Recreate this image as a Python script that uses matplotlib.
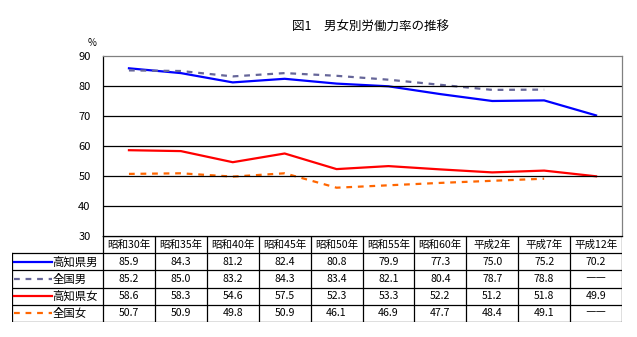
import matplotlib
matplotlib.use("Agg")
import matplotlib.pyplot as plt
import numpy as np

plt.rcParams['font.family'] = ['Noto Sans CJK JP', 'DejaVu Sans']

# data
years = ["昭和30年", "昭和35年", "昭和40年", "昭和45年", "昭和50年",
         "昭和55年", "昭和60年", "平成2年", "平成7年", "平成12年"]
kochi_male = [85.9, 84.3, 81.2, 82.4, 80.8, 79.9, 77.3, 75.0, 75.2, 70.2]
japan_male = [85.2, 85.0, 83.2, 84.3, 83.4, 82.1, 80.4, 78.7, 78.8, np.nan]
kochi_female = [58.6, 58.3, 54.6, 57.5, 52.3, 53.3, 52.2, 51.2, 51.8, 49.9]
japan_female = [50.7, 50.9, 49.8, 50.9, 46.1, 46.9, 47.7, 48.4, 49.1, np.nan]

series = [
    ("高知県男", kochi_male, "#0000ff", "-"),
    ("全国男", japan_male, "#666699", (0, (2.6, 2.6))),
    ("高知県女", kochi_female, "#ff0000", "-"),
    ("全国女", japan_female, "#ff6600", (0, (2.6, 2.6))),
]

W, H = 637, 337
fig = plt.figure(figsize=(W / 100, H / 100), dpi=100)

# chart area
L, R, T, B = 103, 622, 56, 236
ax = fig.add_axes([L / W, 1 - B / H, (R - L) / W, (B - T) / H])
x = np.arange(len(years)) + 0.5
for name, vals, col, ls in series:
    ax.plot(x, vals, color=col, linestyle=ls, lw=1.6)
ax.set_xlim(0, len(years))
ax.set_ylim(30, 90)
ax.set_yticks(range(30, 91, 10))
ax.set_xticks([])
ax.tick_params(axis="y", length=0, labelsize=8, pad=9)
for yv in range(40, 90, 10):
    ax.axhline(yv, color="black", lw=0.9)
ax.spines["left"].set_color("black")
ax.spines["bottom"].set_color("black")
ax.spines["top"].set_color("#808080")
ax.spines["right"].set_color("#808080")
for s in ax.spines.values():
    s.set_linewidth(0.9)

fig.text(370 / W, 1 - 27 / H, "図1　男女別労働力率の推移", ha="center", va="center", fontsize=9)
fig.text(92 / W, 1 - 43 / H, "%", ha="center", va="center", fontsize=7)

# data table under the chart
TL, TB = 12, 322
colw = (R - L) / len(years)
xl = (TL - L) / colw
axt = fig.add_axes([TL / W, 1 - TB / H, (R - TL) / W, (TB - B) / H])
axt.set_xlim(xl, len(years))
axt.set_ylim(5, 0)
axt.axis("off")
lk = dict(color="black", lw=0.9)
# header row
for i in range(len(years) + 1):
    axt.plot([i, i], [0, 5], **lk)
    if i < len(years):
        axt.text(i + 0.5, 0.5, years[i], ha="center", va="center", fontsize=7.6)
axt.plot([xl, xl], [1, 5], **lk)
for r in range(1, 6):
    axt.plot([xl, len(years)], [r, r], **lk)
axt.plot([0, len(years)], [0, 0], **lk)
for r, (name, vals, col, ls) in enumerate(series, start=1):
    axt.plot([xl + 0.03, -0.99], [r + 0.5, r + 0.5], color=col, linestyle=ls, lw=1.6)
    axt.text(-0.97, r + 0.5, name, ha="left", va="center", fontsize=8.2)
    for i, v in enumerate(vals):
        txt = "――" if np.isnan(v) else f"{v:.1f}"
        axt.text(i + 0.5, r + 0.5, txt, ha="center", va="center", fontsize=7.6)

fig.savefig("out.png", dpi=100)
